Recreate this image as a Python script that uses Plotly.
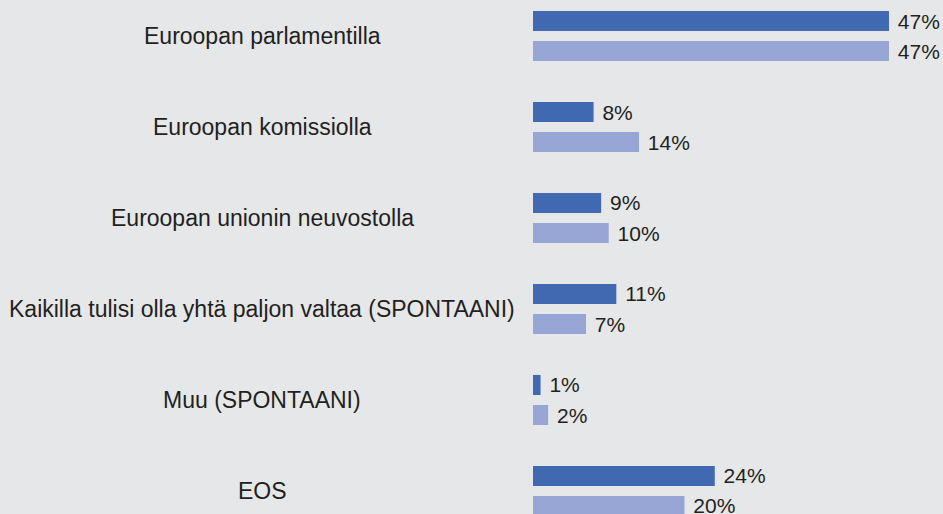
import plotly.graph_objects as go

categories = [
    "Euroopan parlamentilla",
    "Euroopan komissiolla",
    "Euroopan unionin neuvostolla",
    "Kaikilla tulisi olla yhtä paljon valtaa (SPONTAANI)",
    "Muu (SPONTAANI)",
    "EOS",
]
series_a = [47, 8, 9, 11, 1, 24]
series_b = [47, 14, 10, 7, 2, 20]

FONT = "Liberation Sans Narrow, Arial Narrow, Liberation Sans, Arial, sans-serif"
TXT = "#231f20"

fig = go.Figure()
fig.add_trace(go.Bar(
    y=categories, x=series_a, orientation="h", name="A",
    marker=dict(color="#4169b2", line=dict(width=0)),
    text=[f" {v}%" for v in series_a], textposition="outside", constraintext="none",
    textfont=dict(family=FONT, size=21, color=TXT), cliponaxis=False,
    hoverinfo="skip",
))
fig.add_trace(go.Bar(
    y=categories, x=series_b, orientation="h", name="B",
    marker=dict(color="#98a6d6", line=dict(width=0)),
    text=[f" {v}%" for v in series_b], textposition="outside", constraintext="none",
    textfont=dict(family=FONT, size=21, color=TXT), cliponaxis=False,
    hoverinfo="skip",
))

for c in categories:
    fig.add_annotation(
        x=262 / 943, xref="paper", y=c, yref="y",
        text=c, showarrow=False, xanchor="center", yanchor="middle",
        font=dict(family=FONT, size=23, color=TXT),
    )

fig.update_layout(
    width=943, height=514,
    margin=dict(l=0, r=0, t=0, b=0),
    paper_bgcolor="#e6e7e9", plot_bgcolor="#e6e7e9",
    barmode="group", bargap=0.34, bargroupgap=0.333,
    showlegend=False,
)
fig.update_xaxes(domain=[533 / 943, 1], range=[0, 54.13], visible=False, fixedrange=True)
fig.update_yaxes(type="category", categoryorder="array", categoryarray=categories,
                 range=[5.253, -0.396], visible=False, fixedrange=True)

fig.write_html(
    "out.html",
    config={"displayModeBar": False, "staticPlot": True},
    post_script="document.body.style.margin='0';document.body.style.background='#e6e7e9';",
)
